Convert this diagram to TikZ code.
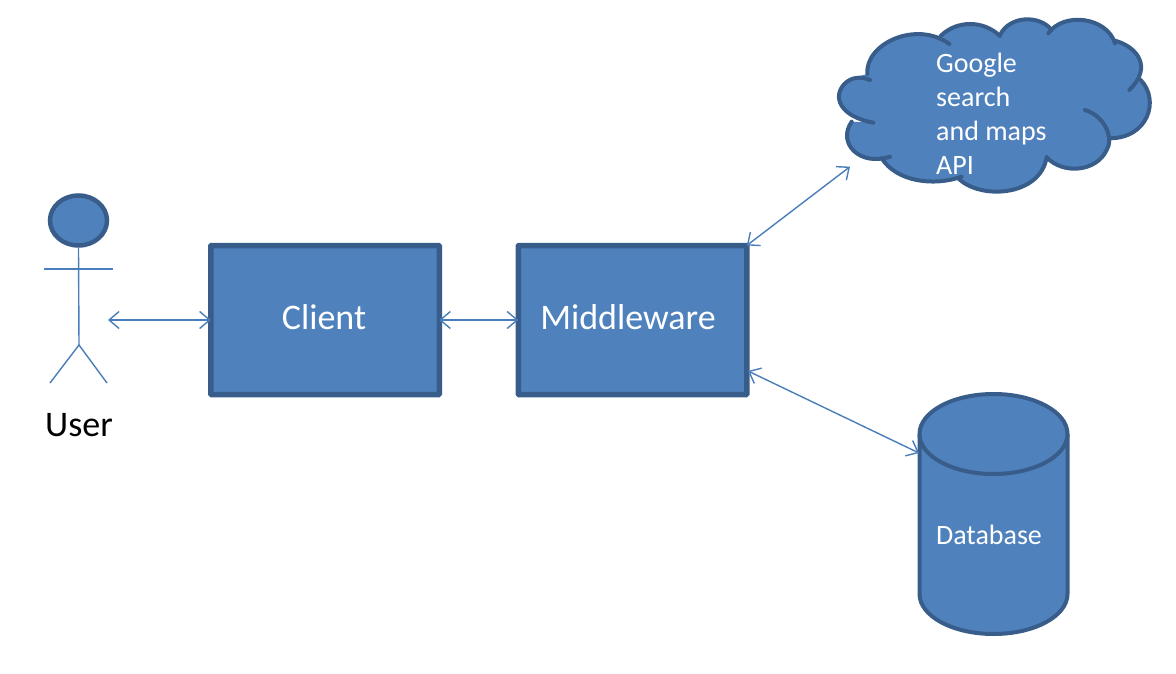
\documentclass[tikz,border=0pt]{standalone}
\usepackage{fontspec}
\setmainfont{Carlito}
\usetikzlibrary{arrows.meta,shapes.geometric}
\definecolor{shapefill}{HTML}{4F81BD}
\definecolor{shapeline}{HTML}{385D8A}
\definecolor{linkline}{HTML}{4A7EBB}
\tikzset{
  boxshape/.style={draw=shapeline,fill=shapefill,line width=5.5pt,rounded corners=0.8pt,minimum width=228.5pt,minimum height=149pt,inner sep=0pt,outer sep=0pt,text=white,font=\fontsize{36}{40}\selectfont},
  link/.style={draw=linkline,line width=1.4pt,{Straight Barb[length=10pt,width=17pt,line width=1.4pt]}-{Straight Barb[length=10pt,width=17pt,line width=1.4pt]}},
  limb/.style={draw=linkline,line width=1.4pt},
  lobe/.style={draw=shapeline,line width=4pt,line cap=round},
  smalltext/.style={text=white,inner sep=0pt,font=\fontsize{28}{34}\selectfont},
}
\begin{document}
\begin{tikzpicture}[x=1pt,y=-1pt]
\path[use as bounding box] (0,0) rectangle (1176,674);
% user
\node[draw=shapeline,fill=shapefill,line width=4.5pt,ellipse,minimum width=57pt,minimum height=50pt,inner sep=0pt] (head) at (78.5,220.5) {};
\coordinate (hip) at (79,345);
\coordinate (armL) at (44,269);
\coordinate (armR) at (113,269);
\coordinate (footL) at (50,383);
\coordinate (footR) at (107,383);
\draw[limb] (head.south) -- (hip);
\draw[limb] (armL) -- (armR);
\draw[limb] (footL) -- (hip) -- (footR);
\node[inner sep=0pt,font=\fontsize{36}{40}\selectfont] (user) at (79,425) {User};
\coordinate (userport) at (108,320);
% boxes
\node[boxshape] (client) at (325,320) {\raisebox{5pt}{Client}\kern2pt};
\node[boxshape] (middleware) at (632.5,320) {\raisebox{6pt}{Middleware}\kern9pt};
% cloud
\begin{scope}[shift={(820,0)},x=0.33333pt,y=-0.33333pt]
\fill[shapefill] (160,368) .. controls (60,350) and (35,290) .. (75,250) .. controls (95,232) and (120,228) .. (142,222)
 .. controls (135,130) and (290,60) .. (388,132) -- (362,108) .. controls (410,60) and (490,60) .. (540,105)
 .. controls (570,45) and (660,45) .. (695,90) -- (685,100) .. controls (730,35) and (860,50) .. (885,130)
 -- (885,122) .. controls (950,140) and (1000,200) .. (928,270) -- (962,240) .. controls (1020,300) and (985,415) .. (868,415)
 -- (866,440) .. controls (830,515) and (730,525) .. (680,472) .. controls (660,590) and (480,600) .. (415,535)
 -- (425,530) .. controls (340,560) and (230,545) .. (185,475) -- (210,470) .. controls (120,500) and (50,430) .. (95,365) -- cycle;
\draw[lobe] (160,368) .. controls (60,350) and (35,290) .. (75,250) .. controls (95,232) and (120,228) .. (150,240);
\draw[lobe] (142,222) .. controls (135,130) and (290,60) .. (388,132);
\draw[lobe] (362,108) .. controls (410,60) and (490,60) .. (540,108);
\draw[lobe] (540,105) .. controls (570,45) and (660,45) .. (695,90);
\draw[lobe] (685,100) .. controls (730,35) and (860,50) .. (885,130);
\draw[lobe] (885,122) .. controls (950,140) and (1000,200) .. (928,270);
\draw[lobe] (962,240) .. controls (1020,300) and (985,415) .. (868,415);
\draw[lobe] (795,330) .. controls (860,350) and (880,420) .. (860,450) .. controls (830,515) and (730,525) .. (680,472);
\draw[lobe] (680,472) .. controls (660,590) and (480,600) .. (415,535);
\draw[lobe] (425,530) .. controls (340,560) and (230,545) .. (185,475);
\draw[lobe] (210,470) .. controls (120,500) and (50,430) .. (95,365);
\coordinate (cloudport) at (90,500);
\end{scope}
\node[smalltext,align=left,anchor=north west] (cloudtext) at (936,53) {Google\\search\\and maps\\API};
% database
\draw[draw=shapeline,fill=shapefill,line width=4pt] (919.5,434) arc[start angle=180,end angle=0,x radius=74,y radius=-40] -- (1067.5,594) arc[start angle=0,end angle=-180,x radius=74,y radius=-40] -- cycle;
\draw[draw=shapeline,line width=4pt] (919.5,434) arc[start angle=180,end angle=360,x radius=74,y radius=-40];
\node[smalltext] (dbtext) at (989,535) {Database};
\coordinate (dbport) at (919,453);
\coordinate (mwport) at (748,371);
% connectors
\draw[link] (userport) -- (client.west);
\draw[link] (client.east) -- (middleware.west);
\draw[link] (middleware.north east) -- (cloudport);
\draw[link] (mwport) -- (dbport);
\end{tikzpicture}
\end{document}
